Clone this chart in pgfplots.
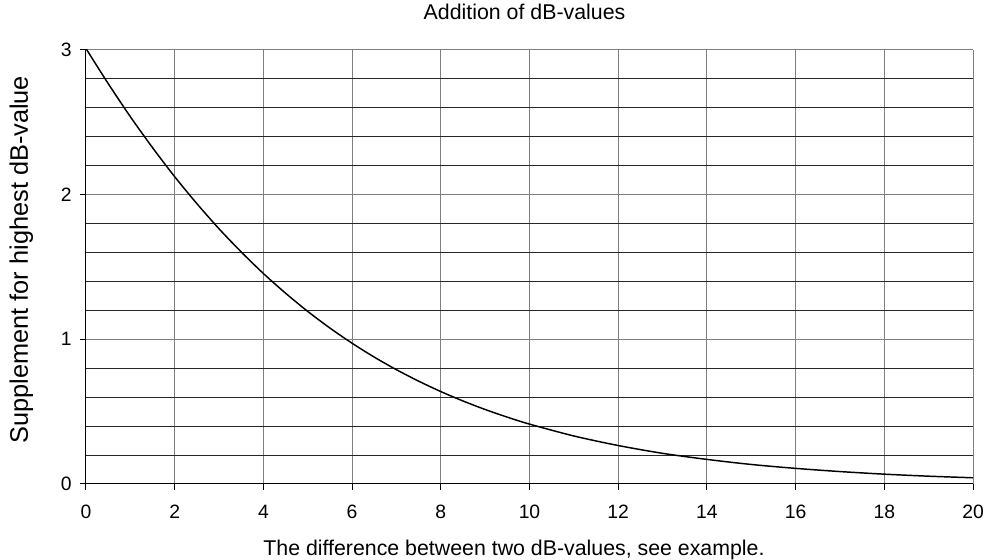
\documentclass[border=0pt]{standalone}
\usepackage{pgfplots}
\pgfplotsset{compat=1.18}
\usepackage{fontspec}
\setmainfont{Liberation Sans}

\begin{document}
\begin{tikzpicture}
\useasboundingbox (-64.5pt,-57pt) rectangle (677.25pt,363pt);
\begin{axis}[
    scale only axis,
    width=665.25pt, height=325.5pt,
    at={(0,0)}, anchor=south west,
    xmin=0, xmax=20, ymin=0, ymax=3,
    xtick={0,2,...,20}, ytick={0,1,2,3},
    minor ytick={0.2,0.4,...,3},
    axis x line*=bottom, axis y line*=left,
    axis line style={-, black, line width=0.75pt},
    tick align=outside, major tick length=4.5pt, minor tick length=0pt,
    tick style={black, line width=0.75pt},
    xmajorgrids, ymajorgrids, yminorgrids,
    major grid style={color=black!50, line width=0.75pt},
    minor grid style={color=black!85, line width=0.75pt},
    /pgf/number format/assume math mode=true,
    ticklabel style={font=\fontsize{14.5}{16}\selectfont},
    yticklabel style={anchor=east, inner sep=0pt, xshift=-6pt},
    xticklabel style={anchor=north, inner sep=0pt, yshift=-11pt},
    title={Addition of dB-values},
    title style={font=\fontsize{16}{18}\selectfont, at={(axis description cs:0.4944,1.0507)}, anchor=base},
    xlabel={The difference between two dB-values, see example.},
    xlabel style={font=\fontsize{16}{18}\selectfont, at={(axis description cs:0.4825,-0.1636)}, anchor=base},
    ylabel={Supplement for highest dB-value},
    ylabel style={font=\fontsize{19}{21}\selectfont, at={(axis description cs:-0.0654,0.517)}, anchor=base},
]
\addplot[black, line width=1.1pt, smooth] coordinates {
    (0,3.010) (0.5,2.768) (1,2.539) (1.5,2.325) (2,2.124) (2.5,1.938)
    (3,1.764) (3.5,1.604) (4,1.455) (4.5,1.319) (5,1.193) (5.5,1.078)
    (6,0.973) (6.5,0.877) (7,0.790) (7.5,0.711) (8,0.639) (8.5,0.574)
    (9,0.515) (9.5,0.462) (10,0.414) (11,0.332) (12,0.266) (13,0.212)
    (14,0.170) (15,0.135) (16,0.108) (17,0.086) (18,0.068) (19,0.054)
    (20,0.043)
};
\end{axis}
\end{tikzpicture}
\end{document}
